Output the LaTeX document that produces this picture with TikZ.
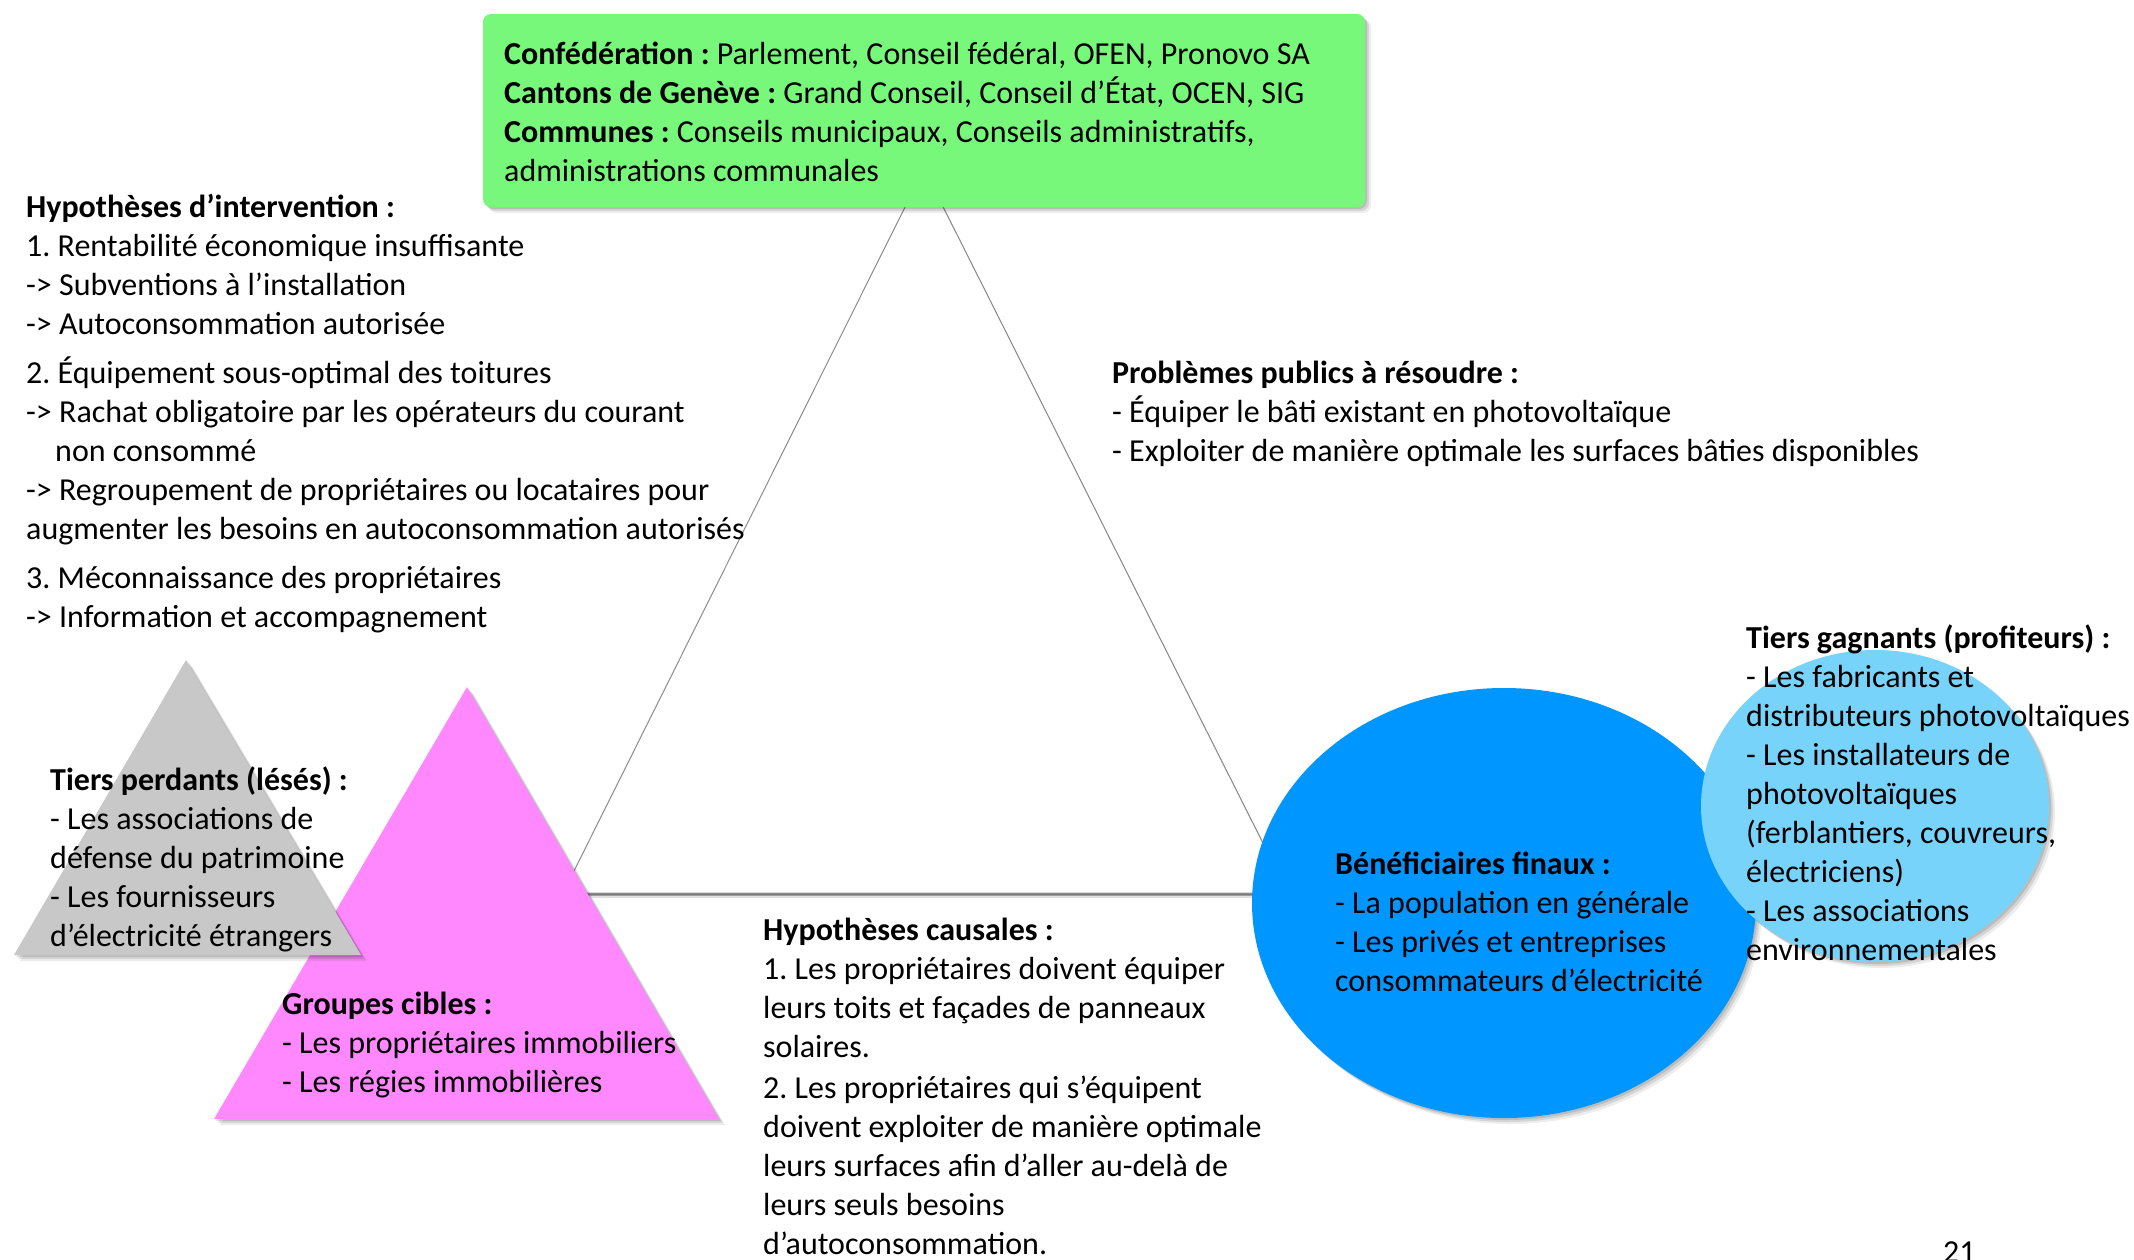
\documentclass[tikz,border=0pt]{standalone}
\usepackage{fontspec}
\setmainfont{Carlito}
\usetikzlibrary{shadows}
\definecolor{boxgreen}{HTML}{78F87A}
\definecolor{tripink}{HTML}{FF88FF}
\definecolor{trigray}{HTML}{C8C8C8}
\definecolor{darkblue}{HTML}{0096FF}
\definecolor{lightblue}{HTML}{78D3FB}
\newcommand{\fst}{\rule{0pt}{30pt}}
\frenchspacing
\begin{document}
\begin{tikzpicture}[x=1pt,y=-1pt,
  shad/.style={
    drop shadow={shadow xshift=2pt,shadow yshift=-2pt,opacity=0.12,fill=black},
    drop shadow={shadow xshift=4pt,shadow yshift=-4pt,opacity=0.10,fill=black},
    drop shadow={shadow xshift=6pt,shadow yshift=-6pt,opacity=0.07,fill=black}},
  txt/.style={anchor=north west,inner sep=0pt,align=left,font=\fontsize{32}{39}\selectfont},
  maintri/.style={fill=white,draw=black!45,line width=1pt,
    drop shadow={shadow xshift=1.5pt,shadow yshift=-2.5pt,opacity=0.45,fill=black},
    drop shadow={shadow xshift=3pt,shadow yshift=-5pt,opacity=0.12,fill=black}}]
\useasboundingbox (0,0) rectangle (2134,1259);

% main triangle
\coordinate (tA) at (924,169);
\coordinate (tB) at (563,893);
\coordinate (tC) at (1288,893);
\draw[maintri] (tA) -- (tB) -- (tC) -- cycle;

% green box
\draw[fill=boxgreen,draw=none,rounded corners=8pt,shad] (483,14) rectangle (1365,207);

% pink triangle, gray triangle
\fill[tripink,shad] (467,687) -- (214,1119) -- (719,1119) -- cycle;
\fill[trigray,shad] (186,660) -- (14,955) -- (361,955) -- cycle;

% ellipses
\fill[darkblue,shad] (1504,903) ellipse [x radius=252pt,y radius=215pt];
\fill[lightblue,shad] (1875,806) ellipse [x radius=174pt,y radius=156pt];

% texts
\node[txt] (actors) at (504,34) {\fst\textbf{Confédération :} Parlement, Conseil fédéral, OFEN, Pronovo SA\\
\textbf{Cantons de Genève :} Grand Conseil, Conseil d’État, OCEN, SIG\\
\textbf{Communes :} Conseils municipaux, Conseils administratifs,\\
administrations communales};

\node[txt] (interv) at (26,187) {\fst\textbf{Hypothèses d’intervention :}\\
1. Rentabilité économique insuffisante\\
-> Subventions à l’installation\\
-> Autoconsommation autorisée\\[10pt]
2. Équipement sous-optimal des toitures\\
-> Rachat obligatoire par les opérateurs du courant\\
\hspace*{29pt}non consommé\\
-> Regroupement de propriétaires ou locataires pour\\
augmenter les besoins en autoconsommation autorisés\\[10pt]
3. Méconnaissance des propriétaires\\
-> Information et accompagnement};

\node[txt] (probl) at (1112,353) {\fst\textbf{Problèmes publics à résoudre :}\\
- Équiper le bâti existant en photovoltaïque\\
- Exploiter de manière optimale les surfaces bâties disponibles};

\node[txt] (gagn) at (1746,618) {\fst\textbf{Tiers gagnants (profiteurs) :}\\
- Les fabricants et\\
distributeurs photovoltaïques\\
- Les installateurs de\\
photovoltaïques\\
(ferblantiers, couvreurs,\\
électriciens)\\
- Les associations\\
environnementales};

\node[txt] (benef) at (1335,844) {\fst\textbf{Bénéficiaires finaux :}\\
- La population en générale\\
- Les privés et entreprises\\
consommateurs d’électricité};

\node[txt] (perd) at (50,760) {\fst\textbf{Tiers perdants (lésés) :}\\
- Les associations de\\
défense du patrimoine\\
- Les fournisseurs\\
d’électricité étrangers};

\node[txt] (cibles) at (282,984) {\fst\textbf{Groupes cibles :}\\
- Les propriétaires immobiliers\\
- Les régies immobilières};

\node[txt] (causal) at (763,910) {\fst\textbf{Hypothèses causales :}\\
1. Les propriétaires doivent équiper\\
leurs toits et façades de panneaux\\
solaires.\\[2pt]
2. Les propriétaires qui s’équipent\\
doivent exploiter de manière optimale\\
leurs surfaces afin d’aller au-delà de\\
leurs seuls besoins\\
d’autoconsommation.};

\node[txt] (pagenum) at (1943,1232) {\fst 21};
\end{tikzpicture}
\end{document}
